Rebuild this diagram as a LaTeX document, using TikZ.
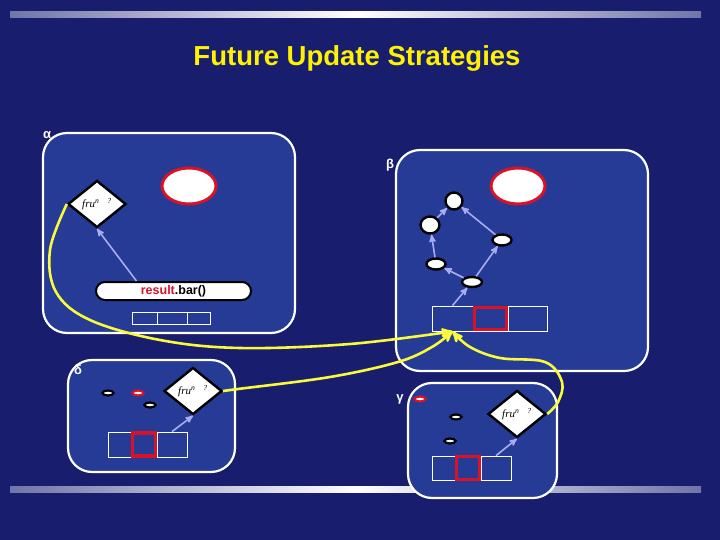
\documentclass[tikz,border=0pt]{standalone}
\usepackage{fontspec}
\setmainfont{Liberation Sans}
\newfontfamily\handit{Liberation Serif}
\usetikzlibrary{arrows,calc,shapes}

\definecolor{navy}{RGB}{25,29,110}
\definecolor{boxblue}{RGB}{37,59,150}
\definecolor{lav}{RGB}{168,172,240}
\definecolor{redc}{RGB}{218,18,40}
\definecolor{yel}{RGB}{250,250,60}
\definecolor{barg}{RGB}{112,116,168}

\newcommand{\fut}{{\handit\itshape fru\textsuperscript{n}\hspace{8pt}\textsuperscript{?}}}

\begin{document}
\begin{tikzpicture}[x=1pt,y=-1pt]
\tikzset{>=stealth',
  frame/.style={draw=white,line width=2.2pt,fill=boxblue,rounded corners=24pt},
  fut/.style={diamond,draw=black,fill=white,line width=2.4pt,inner sep=0pt,minimum width=58pt,minimum height=47pt,font=\fontsize{11}{11}\selectfont},
  obj/.style={ellipse,draw=redc,fill=white,line width=3pt,inner sep=0pt,minimum width=54pt,minimum height=36pt},
  nd/.style={ellipse,draw=black,fill=white,line width=2.4pt,inner sep=0pt},
  sm/.style={ellipse,draw=black,fill=white,line width=2.2pt,inner sep=0pt,minimum width=11pt,minimum height=5pt},
  cell/.style={draw=white,line width=0.8pt,inner sep=0pt},
  cur/.style={draw=redc,line width=3.8pt,inner sep=0pt},
  ref/.style={lav,line width=1.6pt,->},
  upd/.style={yel,line width=2.6pt,->},
  greek/.style={white,font=\fontsize{13}{13}\selectfont\bfseries}}

\useasboundingbox (0,0) rectangle (720,540);
\fill[navy] (0,0) rectangle (720,540);
\shade[left color=barg,right color=barg,middle color=white] (10,12) rectangle (701,18);
\shade[left color=barg,right color=barg,middle color=white] (10,486) rectangle (701,492);
\node[text=yellow,font=\fontsize{27.5}{30}\selectfont\bfseries] (title) at (357,58) {Future Update Strategies};

% the four futures
\draw[frame] (43,133) rectangle (295,333);
\draw[frame] (396,150) rectangle (648,371);
\draw[frame] (68,360) rectangle (235,472);
\draw[frame] (408,383) rectangle (557,498);
\node[greek] (lA) at (47,135) {α};
\node[greek] (lB) at (390,165) {β};
\node[greek] (lD) at (78,370) {δ};
\node[greek] (lG) at (400,399) {γ};

% alpha
\node[obj] (oA) at (189,186) {};
\node[fut] (dA) at (97,204) {\fut};
\node[draw=black,fill=white,line width=2pt,rounded corners=9pt,minimum width=155pt,minimum height=18pt,inner sep=0pt,font=\fontsize{12.5}{13}\selectfont\bfseries] (rA) at (173.5,291) {\textcolor{redc}{result}.bar()};
\node[cell,minimum width=25pt,minimum height=12pt] (tA1) at (144.5,318) {};
\node[cell,minimum width=30pt,minimum height=12pt] (tA2) at (172,318) {};
\node[cell,minimum width=23pt,minimum height=12pt] (tA3) at (198.5,318) {};
\draw[ref] ([xshift=-37pt]rA.north) -- (dA.south);

% beta
\node[obj] (oB) at (518,186) {};
\node[nd,minimum width=17pt,minimum height=17pt] (b1) at (454,201) {};
\node[nd,minimum width=19pt,minimum height=17pt] (b2) at (430,225) {};
\node[nd,minimum width=19pt,minimum height=11pt] (b3) at (502,240) {};
\node[nd,minimum width=19pt,minimum height=11pt] (b4) at (436,264) {};
\node[nd,minimum width=20pt,minimum height=10pt] (b5) at (472,282) {};
\node[cell,minimum width=41pt,minimum height=25pt] (tB1) at (452.5,318.5) {};
\node[cell,minimum width=35pt,minimum height=25pt] (tB2) at (490.5,318.5) {};
\node[cell,minimum width=39pt,minimum height=25pt] (tB3) at (527.5,318.5) {};
\node[cur,minimum width=32pt,minimum height=22pt] at (tB2) {};
\draw[ref] (b2) -- (b1);
\draw[ref] (b4) -- (b2);
\draw[ref] (b5) -- (b4);
\draw[ref] (b5) -- (b3);
\draw[ref] (b3) -- (b1);
\draw[ref] (tB1.north) -- (b5);

% delta
\node[fut] (dD) at (193,391) {\fut};
\node[sm] (sD1) at (108,393) {};
\node[sm,draw=redc] (sD2) at (138,393) {};
\node[sm] (sD3) at (150,405) {};
\node[cell,minimum width=23pt,minimum height=25pt] (tD1) at (119.5,444.5) {};
\node[cell,minimum width=26pt,minimum height=25pt] (tD2) at (144,444.5) {};
\node[cell,minimum width=30pt,minimum height=25pt] (tD3) at (172,444.5) {};
\node[cur,minimum width=23pt,minimum height=23pt] at (tD2) {};
\draw[ref] (tD3.north) -- (dD.south);

% gamma
\node[fut] (dG) at (517,414) {\fut};
\node[sm,draw=redc] (sG1) at (420,399) {};
\node[sm] (sG2) at (456,417) {};
\node[sm] (sG3) at (450,441) {};
\node[cell,minimum width=23pt,minimum height=24pt] (tG1) at (443.5,468) {};
\node[cell,minimum width=26pt,minimum height=24pt] (tG2) at (468,468) {};
\node[cell,minimum width=30pt,minimum height=24pt] (tG3) at (496,468) {};
\node[cur,minimum width=23pt,minimum height=23pt] at (tG2) {};
\draw[ref] (tG3.north) -- (dG.south);

% updates into beta
\draw[upd] plot[smooth,tension=0.6] coordinates {(dA.west) (50,250) (56,292) (90,320) (160,340) (240,348) (350,344) (tB1.south)};
\draw[upd] plot[smooth,tension=0.6] coordinates {(dD.east) (238,389) (330,377) (398,362) (432,347) (tB1.south)};
\draw[upd] plot[smooth,tension=0.6] coordinates {(dG.east) (558,402) (562,382) (545,362) (500,358) (470,347) (tB1.south)};
\end{tikzpicture}
\end{document}
